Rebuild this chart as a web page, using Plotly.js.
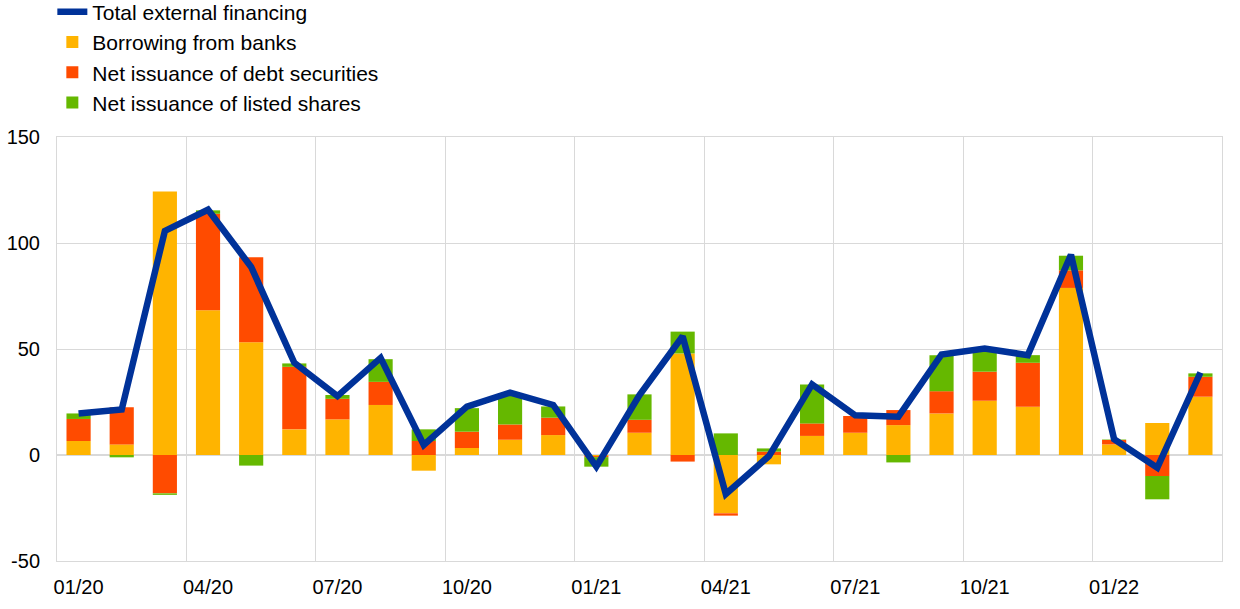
<!DOCTYPE html>
<html>
<head>
<meta charset="utf-8">
<script src="https://cdn.plot.ly/plotly-3.0.1.min.js"></script>
<style>html,body{margin:0;padding:0;background:#fff;}#chart{width:1240px;height:609px;}</style>
</head>
<body>
<div id="chart"></div>
<script>
var months = ['01/20','02/20','03/20','04/20','05/20','06/20','07/20','08/20','09/20','10/20','11/20','12/20',
              '01/21','02/21','03/21','04/21','05/21','06/21','07/21','08/21','09/21','10/21','11/21','12/21',
              '01/22','02/22','03/22'];
var banks  = [6.6, 5.0, 124.3, 68.3, 53.2, 12.1, 16.8, 23.6, -7.4, 3.3, 7.2, 9.4,
              -0.5, 10.5, 47.9, -27.5, -4.4, 9.0, 10.5, 14.1, 19.6, 25.6, 22.8, 78.8,
              5.0, 15.1, 27.5];
var debt   = [10.4, 17.5, -18.1, 45.5, 40.1, 29.5, 9.7, 10.9, 6.6, 7.7, 7.2, 8.2,
              -0.5, 6.1, -3.1, -1.1, 1.6, 5.9, 7.9, 7.1, 10.5, 13.7, 20.7, 8.3,
              2.1, -9.9, 9.4];
var shares = [2.6, -1.1, -0.7, 1.6, -5.0, 1.6, 1.8, 10.7, 5.5, 11.1, 13.9, 5.3,
              -4.5, 12.0, 10.3, 10.2, 1.5, 18.4, 0.0, -3.5, 17.0, 10.8, 3.6, 6.9,
              0.2, -11.0, 1.6];
var total  = [19.6, 21.5, 105.7, 115.7, 88.7, 43.5, 27.8, 45.8, 4.7, 22.8, 29.4, 23.6,
              -5.5, 28.3, 56.0, -18.4, -0.5, 33.3, 18.7, 18.1, 47.4, 50.2, 47.1, 94.5,
              7.4, -6.0, 38.9];

var tickFont = {family: 'Liberation Sans, Arial, sans-serif', size: 20, color: '#000'};
var legendFont = {family: 'Liberation Sans, Arial, sans-serif', size: 21, color: '#000'};
var barW = 0.56;

var data = [
  {type: 'scatter', mode: 'lines', name: 'Total external financing', x: months, y: total,
   line: {color: '#003299', width: 6.5}},
  {type: 'bar', name: 'Borrowing from banks', x: months, y: banks, width: barW,
   marker: {color: '#FFB400', line: {width: 0}}},
  {type: 'bar', name: 'Net issuance of debt securities', x: months, y: debt, width: barW,
   marker: {color: '#FF4B00', line: {width: 0}}},
  {type: 'bar', name: 'Net issuance of listed shares', x: months, y: shares, width: barW,
   marker: {color: '#65B800', line: {width: 0}}}
];

var layout = {
  width: 1240, height: 609,
  margin: {l: 57, r: 18, t: 137, b: 48, pad: 0, autoexpand: false},
  paper_bgcolor: '#fff', plot_bgcolor: '#fff',
  barmode: 'relative',
  font: tickFont,
  showlegend: true,
  legend: {x: -0.004, xanchor: 'left', y: 1.343, yanchor: 'top', traceorder: 'normal',
           font: legendFont, bgcolor: 'rgba(0,0,0,0)', tracegroupgap: 0},
  xaxis: {type: 'category', range: [-0.5, 26.5], tickson: 'boundaries', dtick: 3, tickangle: 0,
          showgrid: true, gridcolor: '#d9d9d9', gridwidth: 1,
          showline: true, mirror: true, linecolor: '#d9d9d9', linewidth: 1,
          ticks: '', ticklabelstandoff: 8, tickfont: tickFont, fixedrange: true, automargin: false},
  yaxis: {range: [-50, 150], tickvals: [-50, 0, 50, 100, 150], ticktext: ['-50','0','50','100','150'],
          showgrid: true, gridcolor: '#d9d9d9', gridwidth: 1,
          zeroline: true, zerolinecolor: '#d9d9d9', zerolinewidth: 2,
          showline: true, mirror: true, linecolor: '#d9d9d9', linewidth: 1,
          ticks: '', ticklabelstandoff: 12, tickfont: tickFont, automargin: false, fixedrange: true}
};

Plotly.newPlot('chart', data, layout, {displayModeBar: false, staticPlot: true});
</script>
</body>
</html>
